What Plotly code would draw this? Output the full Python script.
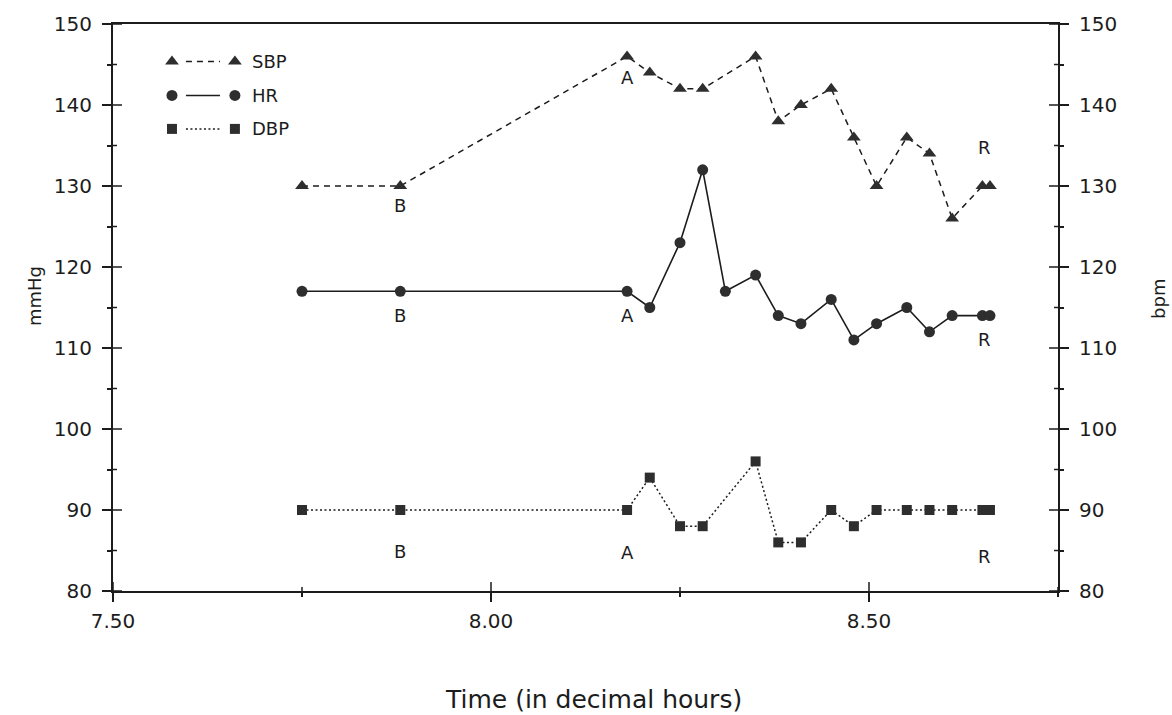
import plotly.graph_objects as go

# ---- data -------------------------------------------------------------
sbp_time = [7.75, 7.88, 8.18, 8.21, 8.25, 8.28, 8.35, 8.38, 8.41, 8.45,
            8.48, 8.51, 8.55, 8.58, 8.61, 8.65, 8.66]
sbp = [130, 130, 146, 144, 142, 142, 146, 138, 140, 142,
       136, 130, 136, 134, 126, 130, 130]

hr_time = [7.75, 7.88, 8.18, 8.21, 8.25, 8.28, 8.31, 8.35, 8.38, 8.41,
           8.45, 8.48, 8.51, 8.55, 8.58, 8.61, 8.65, 8.66]
hr = [117, 117, 117, 115, 123, 132, 117, 119, 114, 113,
      116, 111, 113, 115, 112, 114, 114, 114]

dbp_time = [7.75, 7.88, 8.18, 8.21, 8.25, 8.28, 8.35, 8.38, 8.41, 8.45,
            8.48, 8.51, 8.55, 8.58, 8.61, 8.65, 8.66]
dbp = [90, 90, 90, 94, 88, 88, 96, 86, 86, 90,
       88, 90, 90, 90, 90, 90, 90]

# phase markers (Baseline, Activity, Recovery) per series
phase_text = ["B", "A", "R"]
sbp_phase_x = [7.88, 8.18, 8.653]
sbp_phase_y = [127.6, 143.4, 134.8]
hr_phase_x = [7.88, 8.18, 8.653]
hr_phase_y = [114.0, 114.0, 111.1]
dbp_phase_x = [7.88, 8.18, 8.653]
dbp_phase_y = [84.9, 84.8, 84.3]

x_ticks = [7.50, 8.00, 8.50]
x_tick_text = ["7.50", "8.00", "8.50"]
x_minor = [7.75, 8.25, 8.75]
y_ticks = [80, 90, 100, 110, 120, 130, 140, 150]
y_minor = [85, 95, 105, 115, 125, 135, 145]

# ---- styling ----------------------------------------------------------
FONT = "DejaVu Sans"
INK = "#1c1c1c"
MARK = "#2e2e2e"
SBP_DASH = "6px,5px"
DBP_DASH = "2px,2.5px"
MAJOR_LEN = 9
MINOR_LEN = 4
XR = [7.5, 8.75]
YR = [80, 150]
W, H = 1172, 715
MARGIN = dict(l=113, r=114, t=19, b=124)
PLOT_W = W - MARGIN["l"] - MARGIN["r"]
PLOT_H = H - MARGIN["t"] - MARGIN["b"]
X_PER_PX = (XR[1] - XR[0]) / PLOT_W
Y_PER_PX = (YR[1] - YR[0]) / PLOT_H

fig = go.Figure()

fig.add_trace(go.Scatter(
    x=sbp_time, y=sbp, mode="lines+markers", name="SBP",
    line=dict(color=INK, width=1.5, dash=SBP_DASH),
    marker=dict(symbol="triangle-up", size=12, color=MARK),
    showlegend=False))

fig.add_trace(go.Scatter(
    x=hr_time, y=hr, mode="lines+markers", name="HR", yaxis="y2",
    line=dict(color=INK, width=1.6),
    marker=dict(symbol="circle", size=11, color=MARK),
    showlegend=False))

fig.add_trace(go.Scatter(
    x=dbp_time, y=dbp, mode="lines+markers", name="DBP",
    line=dict(color=INK, width=1.5, dash=DBP_DASH),
    marker=dict(symbol="square", size=10, color=MARK),
    showlegend=False))

# hand-built key in the upper-left corner (axis fraction coordinates)
key_rows = [
    ("SBP", "triangle-up", 12, SBP_DASH, 0.934),
    ("HR", "circle", 11, "solid", 0.874),
    ("DBP", "square", 10, DBP_DASH, 0.815),
]
for label, sym, size, dash, ky in key_rows:
    fig.add_trace(go.Scatter(
        x=[0.0624, 0.129], y=[ky, ky], mode="markers",
        marker=dict(symbol=sym, size=size, color=MARK),
        xaxis="x3", yaxis="y5", showlegend=False, hoverinfo="skip"))
    fig.add_trace(go.Scatter(
        x=[0.0772, 0.1132], y=[ky, ky], mode="lines",
        line=dict(color=INK, width=1.5, dash=dash),
        xaxis="x3", yaxis="y5", showlegend=False, hoverinfo="skip"))
    fig.add_annotation(x=0.145, y=ky, xref="x3", yref="y5", text=label,
                       showarrow=False, xanchor="left", yanchor="middle",
                       font=dict(family=FONT, size=18, color=INK))

# phase letters
for xs, ys, yref in [(sbp_phase_x, sbp_phase_y, "y"),
                     (hr_phase_x, hr_phase_y, "y2"),
                     (dbp_phase_x, dbp_phase_y, "y")]:
    for t, xv, yv in zip(phase_text, xs, ys):
        fig.add_annotation(x=xv, y=yv, xref="x", yref=yref, text=t,
                           showarrow=False, xanchor="center", yanchor="middle",
                           font=dict(family=FONT, size=18, color=INK))

# inward halves of the tick marks, so every tick crosses its axis line
tick_line = dict(color=INK, width=1.5)
for xv in x_ticks + x_minor:
    ln = MAJOR_LEN if xv in x_ticks else MINOR_LEN
    fig.add_shape(type="line", xref="x", yref="y", x0=xv, x1=xv,
                  y0=YR[0], y1=YR[0] + ln * Y_PER_PX,
                  line=tick_line, layer="above")
for yv in y_ticks + y_minor:
    ln = MAJOR_LEN if yv in y_ticks else MINOR_LEN
    for edge, sign in [(XR[0], 1), (XR[1], -1)]:
        fig.add_shape(type="line", xref="x", yref="y", y0=yv, y1=yv,
                      x0=edge, x1=edge + sign * ln * X_PER_PX,
                      line=tick_line, layer="above")

# axis titles
fig.add_annotation(x=-0.0963, y=0.521, xref="paper", yref="paper", text="mmHg",
                   textangle=-90, showarrow=False,
                   font=dict(family=FONT, size=18, color=INK))
fig.add_annotation(x=1.12, y=0.515, xref="paper", yref="paper", text="bpm",
                   textangle=-90, showarrow=False,
                   font=dict(family=FONT, size=18, color=INK))
fig.add_annotation(x=0.508, y=-0.1906, xref="paper", yref="paper",
                   text="Time (in decimal hours)", showarrow=False,
                   yanchor="middle",
                   font=dict(family=FONT, size=25, color=INK))

tick_font = dict(family=FONT, size=20, color=INK)

def y_axis(**kw):
    base = dict(range=YR, tickvals=y_ticks, tickcolor=INK, tickwidth=1.5,
                ticks="outside", ticklen=MAJOR_LEN,
                minor=dict(tickvals=y_minor, ticks="outside",
                           ticklen=MINOR_LEN, tickwidth=1.5, tickcolor=INK),
                showline=True, linewidth=2, linecolor=INK,
                showgrid=False, zeroline=False, tickfont=tick_font,
                ticklabelstandoff=6)
    base.update(kw)
    return base

fig.update_layout(
    width=W, height=H,
    margin=MARGIN,
    paper_bgcolor="white", plot_bgcolor="white",
    showlegend=False,
    xaxis=dict(range=XR, tickvals=x_ticks, ticktext=x_tick_text,
               ticks="outside", ticklen=MAJOR_LEN, tickwidth=1.5,
               tickcolor=INK,
               minor=dict(tickvals=x_minor, ticks="outside",
                          ticklen=MINOR_LEN, tickwidth=1.5, tickcolor=INK),
               showline=True, linewidth=2, linecolor=INK, mirror=True,
               showgrid=False, zeroline=False, tickfont=tick_font,
               ticklabelstandoff=2),
    xaxis3=dict(range=[0, 1], overlaying="x", visible=False),
    yaxis=y_axis(),
    yaxis2=y_axis(overlaying="y", side="right", anchor="x"),
    yaxis5=dict(range=[0, 1], overlaying="y", visible=False),
)

fig.write_html("out.html")
